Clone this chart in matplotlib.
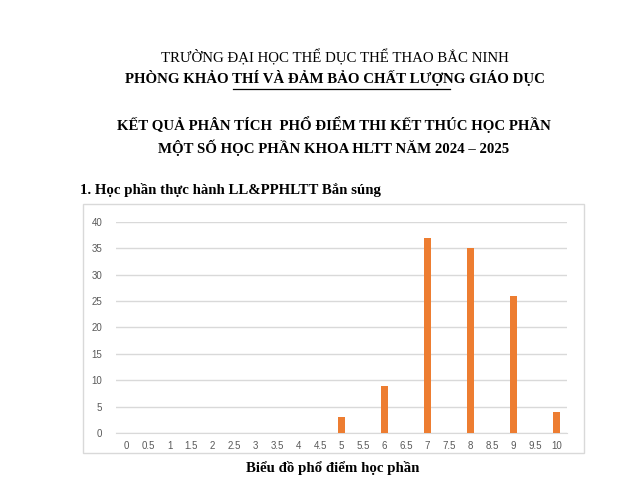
import matplotlib
matplotlib.use("Agg")
import matplotlib.pyplot as plt
from matplotlib.patches import Rectangle
from matplotlib.lines import Line2D

# Score bins (0 to 10 in steps of 0.5) and the number of students in each
scores = ["0", "0.5", "1", "1.5", "2", "2.5", "3", "3.5", "4", "4.5", "5",
          "5.5", "6", "6.5", "7", "7.5", "8", "8.5", "9", "9.5", "10"]
counts = [0, 0, 0, 0, 0, 0, 0, 0, 0, 0, 3,
          0, 9, 0, 37, 0, 35, 0, 26, 0, 4]
y_ticks = [0, 5, 10, 15, 20, 25, 30, 35, 40]

header_lines = [
    "TRƯỜNG ĐẠI HỌC THỂ DỤC THỂ THAO BẮC NINH",
    "PHÒNG KHẢO THÍ VÀ ĐẢM BẢO CHẤT LƯỢNG GIÁO DỤC",
    "KẾT QUẢ PHÂN TÍCH  PHỔ ĐIỂM THI KẾT THÚC HỌC PHẦN",
    "MỘT SỐ HỌC PHẦN KHOA HLTT NĂM 2024 – 2025",
]
section_title = "1. Học phần thực hành LL&PPHLTT Bắn súng"
chart_caption = "Biểu đồ phổ điểm học phần"

W, H = 630, 478
fig = plt.figure(figsize=(W / 100, H / 100), dpi=100)
fig.patch.set_facecolor("white")

serif = ["Liberation Serif", "DejaVu Serif"]
fs = 10.75

def fx(px):
    return px / W

def fy(py):
    return 1 - py / H

# Header block
fig.text(fx(335), fy(57), header_lines[0], ha="center", va="center",
         fontsize=fs, family=serif)
fig.text(fx(335), fy(78), header_lines[1], ha="center", va="center",
         fontsize=fs, family=serif, weight="bold")
fig.add_artist(Line2D([fx(233), fx(450)], [fy(89), fy(89)],
                      color="black", lw=0.9, transform=fig.transFigure))
fig.text(fx(334), fy(125), header_lines[2], ha="center", va="center",
         fontsize=fs, family=serif, weight="bold")
fig.text(fx(334), fy(148), header_lines[3], ha="center", va="center",
         fontsize=fs, family=serif, weight="bold")
fig.text(fx(80), fy(190), section_title, ha="left", va="center",
         fontsize=fs, family=serif, weight="bold")
fig.text(fx(333), fy(468), chart_caption, ha="center", va="center",
         fontsize=fs, family=serif, weight="bold")

# Chart frame
fig.add_artist(Rectangle((fx(83), fy(453)), fx(584) - fx(83), fy(204) - fy(453),
                         transform=fig.transFigure, fill=False,
                         edgecolor="#d9d9d9", lw=1.0))

# Plot area
ax = fig.add_axes([fx(116), fy(433), fx(567) - fx(116), fy(222) - fy(433)])
x = list(range(len(scores)))
ax.bar(x, counts, width=0.34, color="#ed7d31", zorder=3)
ax.set_xlim(-0.5, len(scores) - 0.5)
ax.set_ylim(0, 40)
ax.set_yticks(y_ticks)
ax.set_xticks(x)
ax.set_xticklabels(scores)
ax.yaxis.grid(True, color="#d9d9d9", lw=1.0, zorder=0)
for s in ax.spines.values():
    s.set_visible(False)
ax.spines["bottom"].set_visible(True)
ax.spines["bottom"].set_color("#d9d9d9")
ax.tick_params(axis="both", length=0, labelsize=7, labelcolor="#595959")
ax.tick_params(axis="y", pad=10)
ax.tick_params(axis="x", pad=6)
for lbl in ax.get_xticklabels() + ax.get_yticklabels():
    lbl.set_family(["Liberation Sans", "DejaVu Sans"])

fig.savefig("out.png", dpi=100, facecolor="white")
